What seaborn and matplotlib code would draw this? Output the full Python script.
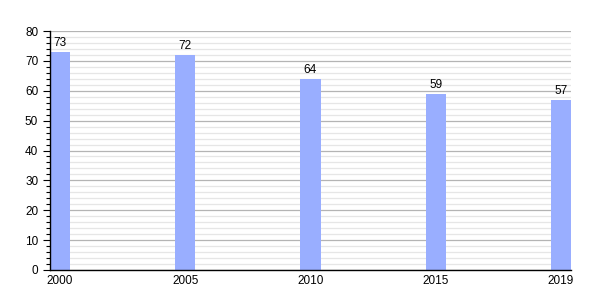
import matplotlib
matplotlib.use("Agg")
import matplotlib.pyplot as plt
import seaborn as sns
import pandas as pd
from matplotlib.ticker import MultipleLocator

years = ["2000", "2005", "2010", "2015", "2019"]
values = [73, 72, 64, 59, 57]

sns.set_style("white")
plt.rcParams['font.family'] = ['Liberation Sans', 'DejaVu Sans']
plt.rcParams['text.color'] = 'black'
plt.rcParams['xtick.color'] = 'black'
plt.rcParams['ytick.color'] = 'black'

fig = plt.figure(figsize=(6, 3), dpi=100)
ax = fig.add_axes([50/600, 1-270/300, 521/600, 239/300])

df = pd.DataFrame({"year": years, "value": values})
bw = 0.16
sns.barplot(data=df, x="year", y="value", color="#99aeff", saturation=1,
            width=bw, ax=ax, zorder=3, linewidth=0, edgecolor="none")

ax.set_xlim(-bw/2, len(years)-1+bw/2)
ax.set_ylim(0, 80)
ax.yaxis.set_major_locator(MultipleLocator(10))
ax.yaxis.set_minor_locator(MultipleLocator(2))
ax.grid(which="major", axis="y", color="#b4b4b4", linewidth=0.9, zorder=0)
ax.grid(which="minor", axis="y", color="#e6e6e6", linewidth=0.9, zorder=0)
ax.set_axisbelow(True)

for s in ["top", "right"]:
    ax.spines[s].set_visible(False)
for s in ["left", "bottom"]:
    ax.spines[s].set_color("black")
    ax.spines[s].set_linewidth(1.0)
    ax.spines[s].set_zorder(4)

ax.tick_params(axis="y", which="major", length=5, width=0.8, labelsize=8.5, left=True,
               color="black", labelcolor="black")
ax.tick_params(axis="y", which="minor", length=3, width=0.8, left=True, color="black")
ax.tick_params(axis="x", length=0, labelsize=8.5, pad=3.5, labelcolor="black")
ax.set_xlabel("")
ax.set_ylabel("")

for i, v in enumerate(values):
    ax.text(i, v + 1.0, str(v), ha="center", va="bottom", fontsize=8.5, color="black", zorder=5)

fig.savefig("out.png", dpi=100)
